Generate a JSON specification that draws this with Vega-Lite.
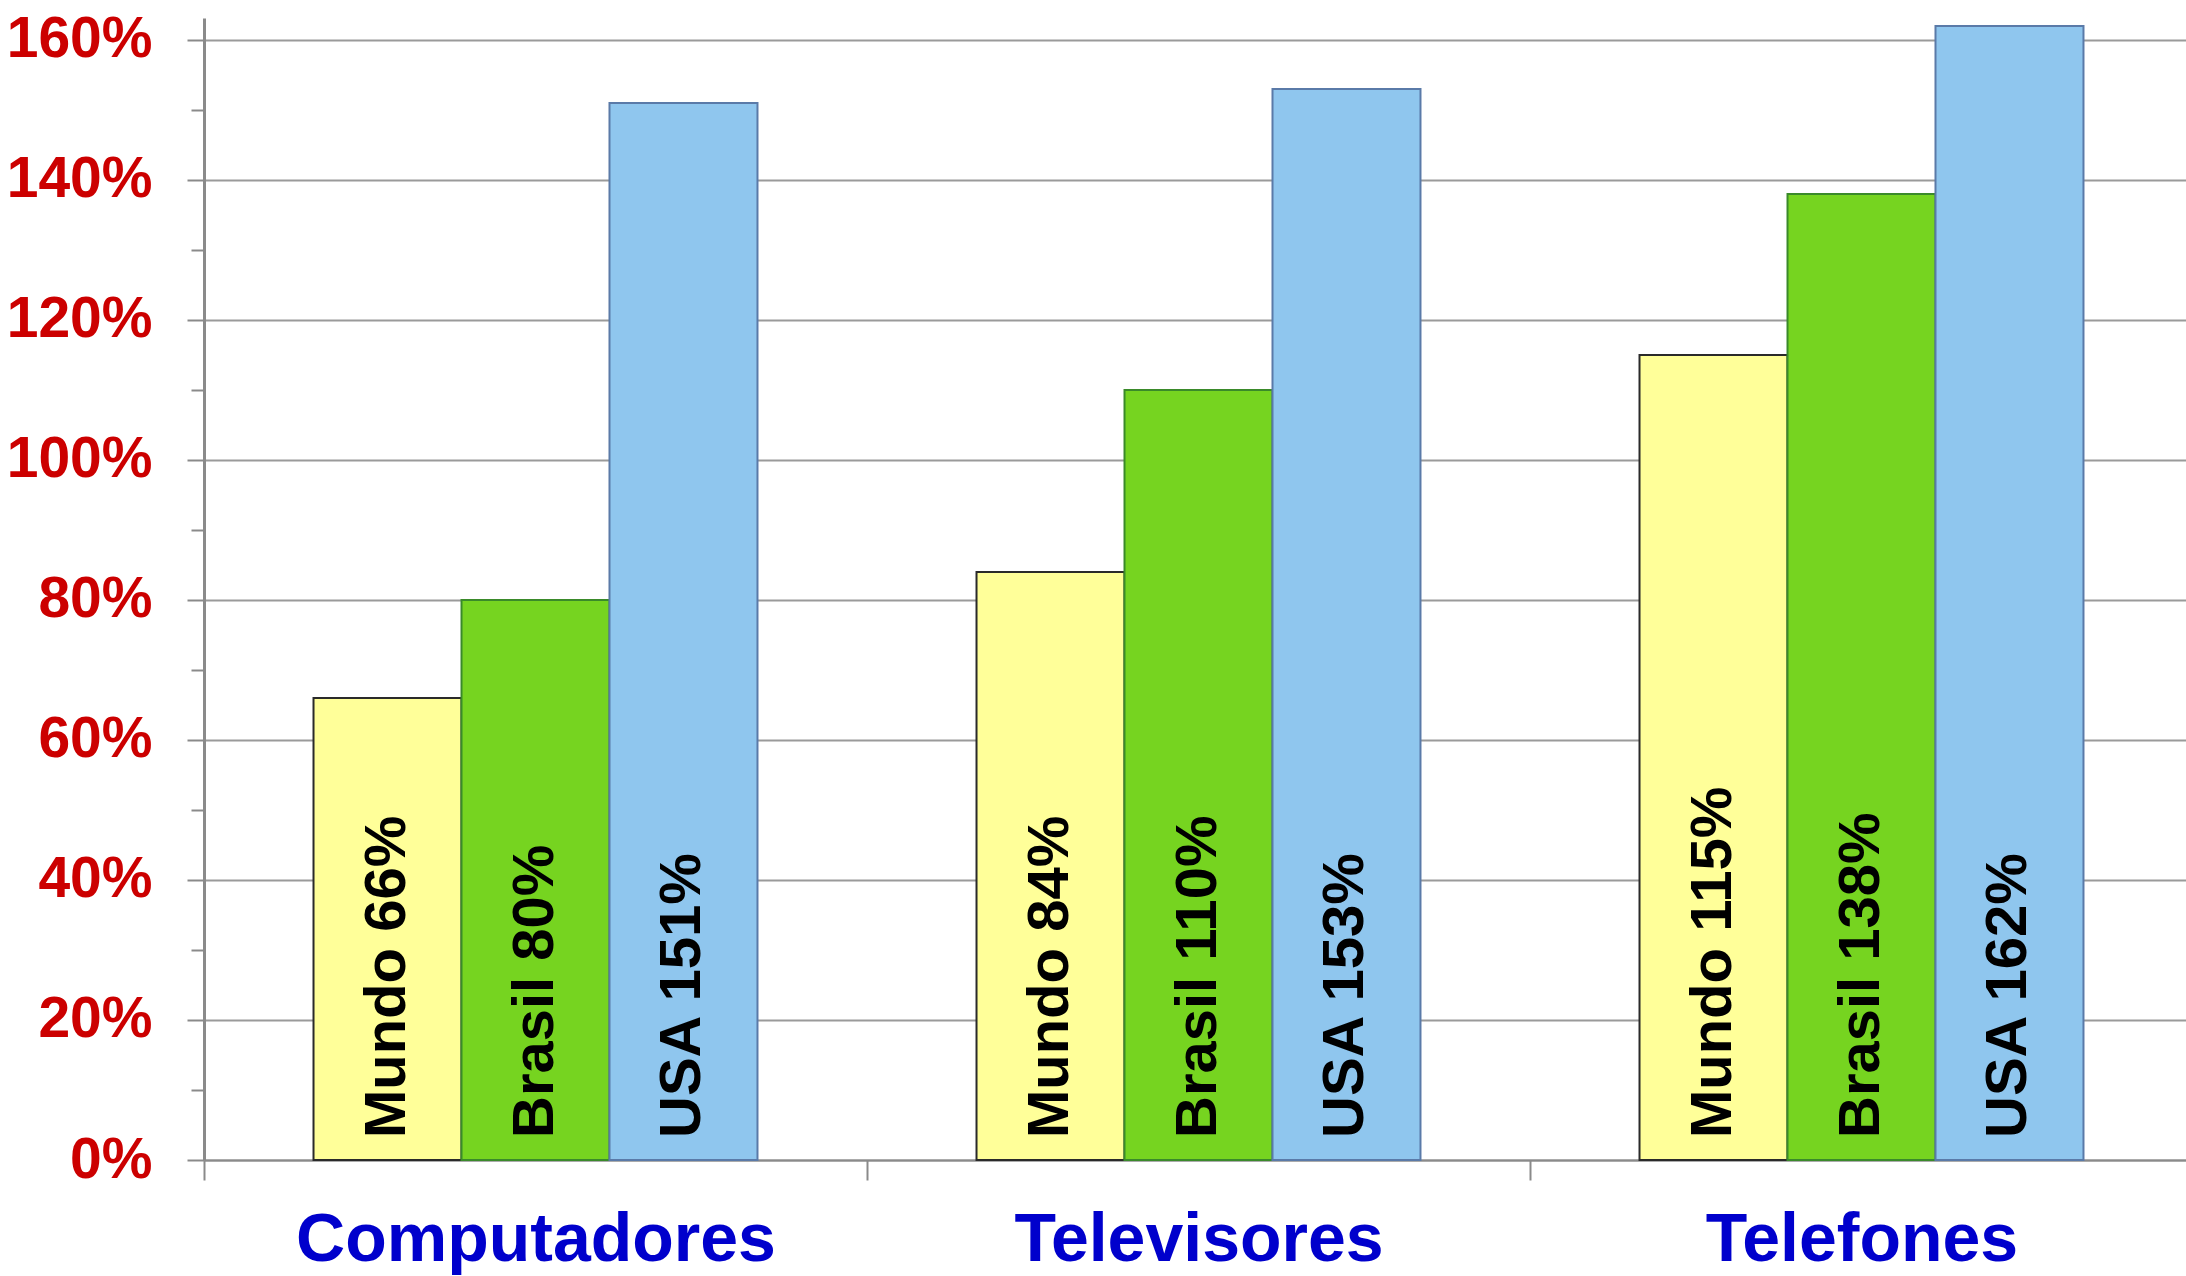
{
  "$schema": "https://vega.github.io/schema/vega-lite/v6.json",
  "autosize": {"type": "none"},
  "padding": {"left": 204, "top": 18, "right": 0, "bottom": 116},
  "width": 1982,
  "height": 1142,
  "background": "white",
  "config": {"view": {"stroke": null}, "font": "Liberation Sans"},
  "data": {
    "values": [
      {"cat": "Computadores", "serie": "Mundo", "valor": 0.66, "rotulo": "Mundo 66%"},
      {"cat": "Computadores", "serie": "Brasil", "valor": 0.80, "rotulo": "Brasil 80%"},
      {"cat": "Computadores", "serie": "USA", "valor": 1.51, "rotulo": "USA 151%"},
      {"cat": "Televisores", "serie": "Mundo", "valor": 0.84, "rotulo": "Mundo 84%"},
      {"cat": "Televisores", "serie": "Brasil", "valor": 1.10, "rotulo": "Brasil 110%"},
      {"cat": "Televisores", "serie": "USA", "valor": 1.53, "rotulo": "USA 153%"},
      {"cat": "Telefones", "serie": "Mundo", "valor": 1.15, "rotulo": "Mundo 115%"},
      {"cat": "Telefones", "serie": "Brasil", "valor": 1.38, "rotulo": "Brasil 138%"},
      {"cat": "Telefones", "serie": "USA", "valor": 1.62, "rotulo": "USA 162%"}
    ]
  },
  "resolve": {"axis": {"y": "independent"}},
  "layer": [
    {
      "mark": {"type": "bar", "strokeWidth": 2},
      "encoding": {
        "x": {
          "field": "cat", "type": "nominal",
          "sort": ["Computadores", "Televisores", "Telefones"],
          "scale": {"paddingInner": 0, "paddingOuter": 0, "range": [0, 1989]},
          "axis": {
            "title": null, "tickBand": "extent", "tickSize": 20, "tickWidth": 2,
            "tickColor": "#8a8a8a", "domainColor": "#8a8a8a", "domainWidth": 2,
            "labelFont": "Liberation Sans", "labelFontSize": 68, "labelFontWeight": "bold",
            "labelColor": "#0000cc", "labelPadding": 80, "labelBaseline": "alphabetic",
            "labelAngle": 0, "labelLimit": 0, "labelOverlap": false, "grid": false
          }
        },
        "xOffset": {
          "field": "serie", "type": "nominal",
          "scale": {"domain": ["Mundo", "Brasil", "USA"], "paddingInner": 0, "paddingOuter": 0.74}
        },
        "y": {
          "field": "valor", "type": "quantitative",
          "scale": {"domain": [0, 1.6314], "nice": false},
          "axis": {
            "orient": "left", "title": null,
            "values": [0, 0.2, 0.4, 0.6, 0.8, 1.0, 1.2, 1.4, 1.6],
            "format": ".0%",
            "labelFont": "Liberation Sans", "labelFontSize": 57, "labelFontWeight": "bold",
            "labelColor": "#cc0000", "labelPadding": 35,
            "tickSize": 17, "tickWidth": 2, "tickColor": "#8a8a8a",
            "domainColor": "#8a8a8a", "domainWidth": 3,
            "grid": true, "gridColor": "#9a9a9a", "gridWidth": 2
          }
        },
        "color": {
          "field": "serie", "type": "nominal",
          "scale": {"domain": ["Mundo", "Brasil", "USA"], "range": ["#ffff99", "#76d420", "#8fc6ee"]},
          "legend": null
        },
        "stroke": {
          "field": "serie", "type": "nominal",
          "scale": {"domain": ["Mundo", "Brasil", "USA"], "range": ["#2a2a2a", "#3a8a2a", "#5a7aa8"]},
          "legend": null
        }
      }
    },
    {
      "mark": {"type": "text", "angle": 270, "align": "left", "baseline": "middle", "dx": 22,
               "fontSize": 58, "fontWeight": "bold", "color": "#000000", "font": "Liberation Sans"},
      "encoding": {
        "x": {"field": "cat", "type": "nominal", "sort": ["Computadores", "Televisores", "Telefones"]},
        "xOffset": {"field": "serie", "type": "nominal"},
        "y": {
          "datum": 0, "type": "quantitative",
          "axis": {
            "orient": "left", "title": null,
            "values": [0.1, 0.3, 0.5, 0.7, 0.9, 1.1, 1.3, 1.5],
            "labels": false, "tickSize": 13, "tickWidth": 2, "tickColor": "#8a8a8a",
            "domain": false, "grid": false
          }
        },
        "text": {"field": "rotulo"}
      }
    }
  ]
}
